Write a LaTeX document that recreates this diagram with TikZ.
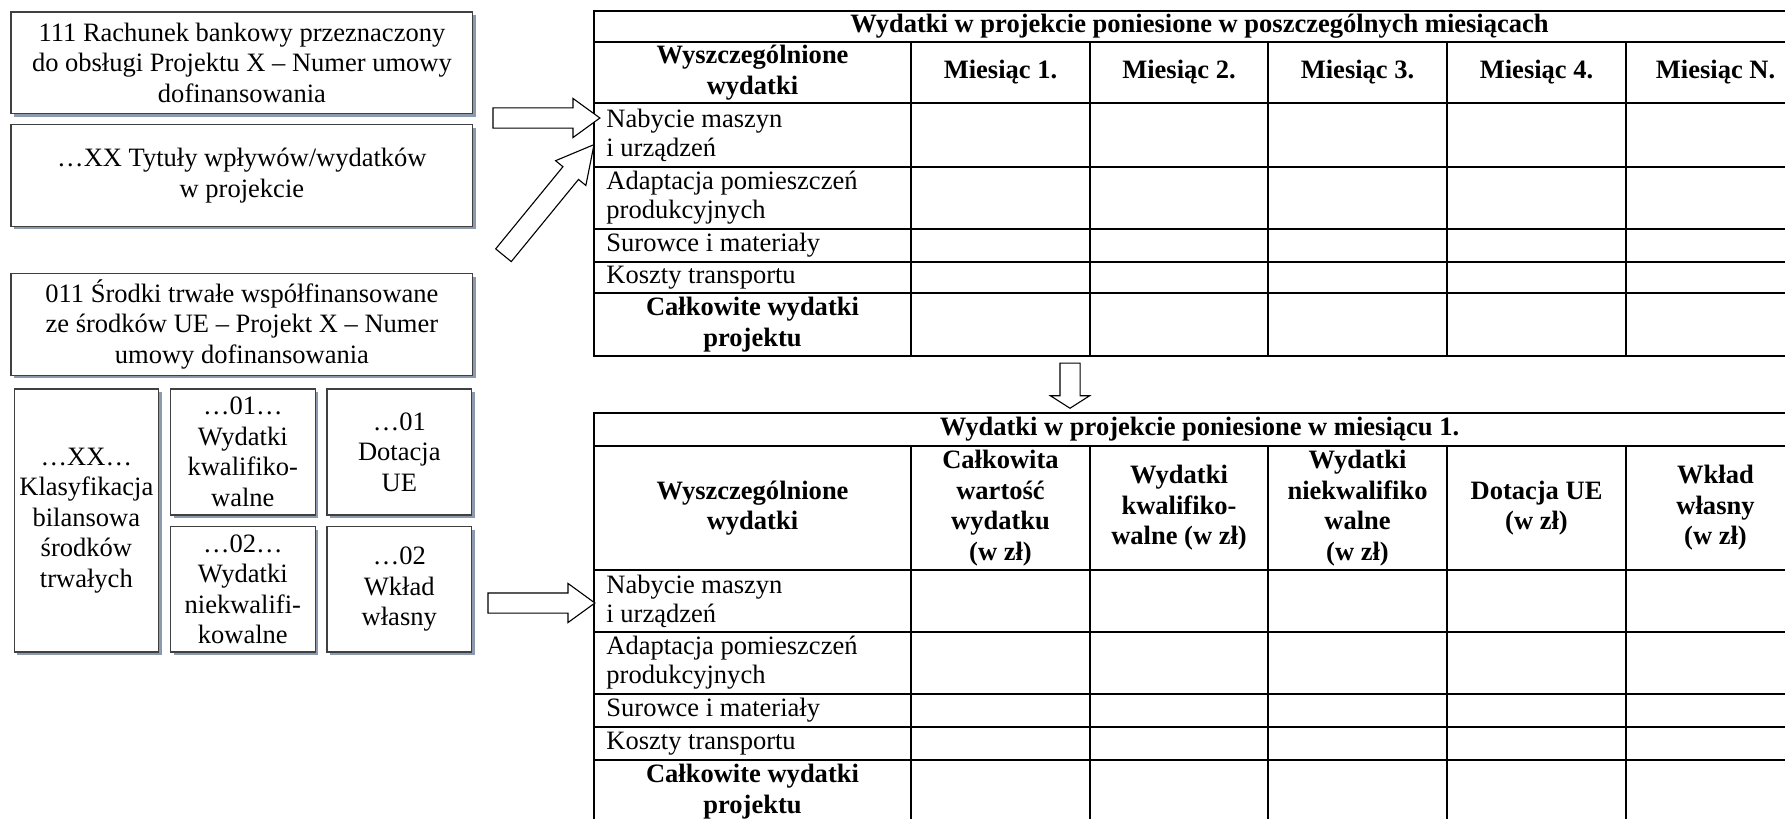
\documentclass[tikz,border=0pt]{standalone}
\usepackage{tikz}
\usepackage{xcolor}
\usepackage{fontspec}
\setmainfont{Liberation Serif}
\usetikzlibrary{shapes.arrows, positioning, shadows}
\definecolor{shadowgray}{RGB}{141, 154, 174}
\definecolor{boxline}{RGB}{64, 64, 64}

\begin{document}
\begin{tikzpicture}[
    x=0.4525pt, y=-0.4525pt,
    node distance=5pt and 5.4pt,
    acctbox/.style={
        rectangle, draw=boxline, line width=0.5pt, fill=white,
        minimum width=209pt, minimum height=46pt,
        inner sep=0pt, outer sep=0pt, align=center,
        font=\fontsize{12}{13.8}\selectfont,
        drop shadow={shadow xshift=1.4pt, shadow yshift=-1.4pt, fill=shadowgray, opacity=1}
    },
    subbox/.style={
        acctbox, minimum width=65.4pt, minimum height=57pt
    },
    blockarrow/.style={
        single arrow, draw=black, line width=0.5pt, fill=white,
        inner xsep=0pt, inner ysep=4.3pt, outer sep=0pt,
        minimum width=17.2pt, single arrow head extend=4.3pt
    },
    gridline/.style={
        draw=black, line width=0.9pt
    },
    headcell/.style={
        align=center, inner sep=0pt,
        font=\fontsize{12}{13.8}\selectfont\bfseries
    },
    rowcell/.style={
        anchor=west, align=left, inner sep=0pt,
        font=\fontsize{12}{13.2}\selectfont
    }
]
\useasboundingbox (0,0) rectangle (1785,819);
\clip (0,0) rectangle (1785,819);

% Accounts
\node[acctbox, anchor=north west] (bank) at (11, 12) {111 Rachunek bankowy przeznaczony\\do obsługi Projektu X – Numer umowy\\dofinansowania};
\node[acctbox, below=of bank] (titles) {…XX Tytuły wpływów/wydatków\\w projekcie};
\node[acctbox, below=21.3pt of titles] (fixed) {011 Środki trwałe współfinansowane\\ze środków UE – Projekt X – Numer\\umowy dofinansowania};

% Sub-accounts
\node[subbox, minimum height=119pt, below right=6.3pt and 1.4pt of fixed.south west] (klas) {…XX…\\Klasyfikacja\\bilansowa\\środków\\trwałych};
\node[subbox, below right=0pt and 5.4pt of klas.north east] (qual) {…01…\\Wydatki\\kwalifiko-\\walne};
\node[subbox, minimum height=56.6pt, below=5.4pt of qual] (nonqual) {…02…\\Wydatki\\niekwalifi-\\kowalne};
\node[subbox, right=5.4pt of qual] (grant) {…01\\Dotacja\\UE};
\node[subbox, minimum height=56.6pt, right=5.4pt of nonqual] (own) {…02\\Wkład\\własny};

% Monthly table
\draw[gridline] (594,11) rectangle (1805,356);
\draw[gridline] (594,42) -- (1805,42) (594,103) -- (1805,103) (594,167) -- (1805,167)
    (594,229) -- (1805,229) (594,262) -- (1805,262) (594,293) -- (1805,293);
\draw[gridline] (911,42) -- (911,356) (1090,42) -- (1090,356) (1268,42) -- (1268,356)
    (1447,42) -- (1447,356) (1626,42) -- (1626,356);

\node[headcell] (mon-title) at (1199.5, 26.5) {Wydatki w projekcie poniesione w poszczególnych miesiącach};
\node[headcell] (mon-head) at (752.5, 72.5) {Wyszczególnione\\wydatki};
\node[headcell] (mon-m1) at (1000.5, 72.5) {Miesiąc 1.};
\node[headcell] (mon-m2) at (1179, 72.5) {Miesiąc 2.};
\node[headcell] (mon-m3) at (1357.5, 72.5) {Miesiąc 3.};
\node[headcell] (mon-m4) at (1536.5, 72.5) {Miesiąc 4.};
\node[headcell] (mon-mn) at (1715.5, 72.5) {Miesiąc N.};
\node[rowcell] (mon-r1) at (606, 135) {Nabycie maszyn\\i urządzeń};
\node[rowcell] (mon-r2) at (606, 198) {Adaptacja pomieszczeń\\produkcyjnych};
\node[rowcell] (mon-r3) at (606, 245.5) {Surowce i materiały};
\node[rowcell] (mon-r4) at (606, 277.5) {Koszty transportu};
\node[headcell] (mon-total) at (752.5, 324.5) {Całkowite wydatki\\projektu};

% Table for month 1
\draw[gridline] (594,413) rectangle (1805,823);
\draw[gridline] (594,446) -- (1805,446) (594,570) -- (1805,570) (594,632) -- (1805,632)
    (594,694) -- (1805,694) (594,727) -- (1805,727) (594,760) -- (1805,760);
\draw[gridline] (911,446) -- (911,823) (1090,446) -- (1090,823) (1268,446) -- (1268,823)
    (1447,446) -- (1447,823) (1626,446) -- (1626,823);

\node[headcell] (one-title) at (1199.5, 429.5) {Wydatki w projekcie poniesione w miesiącu 1.};
\node[headcell] (one-head) at (752.5, 508) {Wyszczególnione\\wydatki};
\node[headcell] (one-total-val) at (1000.5, 508) {Całkowita\\wartość\\wydatku\\(w zł)};
\node[headcell] (one-qual) at (1179, 508) {Wydatki\\kwalifiko-\\walne (w zł)};
\node[headcell] (one-nonqual) at (1357.5, 508) {Wydatki\\niekwalifiko\\walne\\(w zł)};
\node[headcell] (one-grant) at (1536.5, 508) {Dotacja UE\\(w zł)};
\node[headcell] (one-own) at (1715.5, 508) {Wkład\\własny\\(w zł)};
\node[rowcell] (one-r1) at (606, 601) {Nabycie maszyn\\i urządzeń};
\node[rowcell] (one-r2) at (606, 663) {Adaptacja pomieszczeń\\produkcyjnych};
\node[rowcell] (one-r3) at (606, 710.5) {Surowce i materiały};
\node[rowcell] (one-r4) at (606, 743.5) {Koszty transportu};
\node[headcell] (one-total) at (752.5, 791.5) {Całkowite wydatki\\projektu};

% Block arrows
\node[blockarrow, minimum height=48.4pt, single arrow tip angle=72] (arr-top) at (539.5, 118) {};
\node[blockarrow, minimum height=64.7pt, single arrow tip angle=56, rotate=50.7] (arr-diag) at (542.75, 207.25) {};
\node[blockarrow, minimum height=48.4pt, single arrow tip angle=72] (arr-bottom) at (534.5, 603) {};
\node[blockarrow, minimum height=20.4pt, single arrow tip angle=115, rotate=-90] (arr-down) at (1070, 382.5) {};

\end{tikzpicture}
\end{document}
